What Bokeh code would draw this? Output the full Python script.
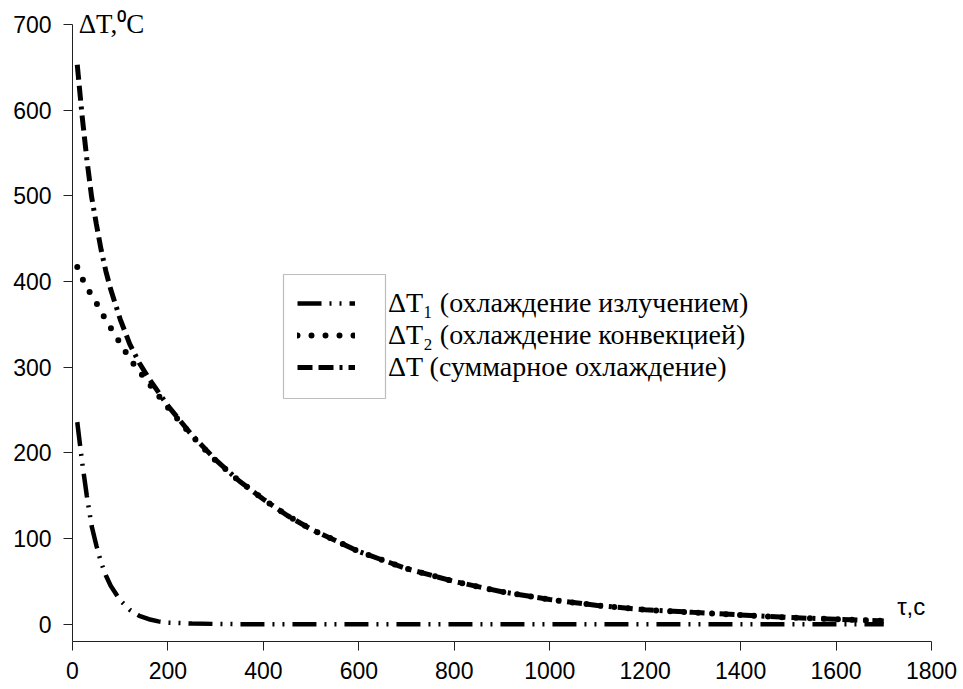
from bokeh.plotting import figure
from bokeh.models import Legend, LegendItem, Label, BoxAnnotation, FixedTicker
from bokeh.embed import file_html
from bokeh.resources import INLINE

# time, s
t = [10, 20, 30, 40, 50, 60, 70, 80, 100, 120, 140, 160, 180, 200, 250, 300, 350,
     400, 450, 500, 600, 700, 800, 900, 1000, 1100, 1200, 1300, 1400, 1500, 1600, 1700]
# ΔT1 — radiation cooling
dT1 = [236, 190, 150, 115, 92, 72, 57, 45, 28, 17, 10, 6, 3.5, 2, 1, 0.5, 0.2,
       0.1, 0, 0, 0, 0, 0, 0, 0, 0, 0, 0, 0, 0, 0, 0]
# ΔT2 — convection cooling
dT2 = [417, 404, 393, 384, 375, 365, 355, 346, 328, 310, 295, 281, 267, 253, 220, 191, 167,
       146, 127, 111, 85, 65, 50, 38, 29, 22, 17, 14, 11, 8, 6, 4]
# ΔT — total cooling
dT = [653, 594, 543, 499, 467, 437, 412, 391, 356, 327, 305, 287, 271, 255, 221, 192, 167,
      146, 127, 111, 85, 65, 50, 38, 29, 22, 17, 14, 11, 8, 6, 4]

labels = ["ΔT\u2081 (охлаждение излучением)",
          "ΔT\u2082 (охлаждение конвекцией)",
          "ΔT (суммарное охлаждение)"]
x_ticks = [0, 200, 400, 600, 800, 1000, 1200, 1400, 1600, 1800]
y_ticks = [0, 100, 200, 300, 400, 500, 600, 700]

p = figure(width=963, height=689, x_range=(0, 1800), y_range=(-20, 728),
           output_backend="svg", toolbar_location=None,
           min_border_left=72, min_border_right=32, min_border_top=0, min_border_bottom=48)
p.outline_line_color = None
p.xgrid.visible = False
p.ygrid.visible = False

for ax, ticks in ((p.xaxis, x_ticks), (p.yaxis, y_ticks)):
    ax.ticker = FixedTicker(ticks=ticks)
    ax.minor_tick_line_color = None
    ax.major_tick_out = 9
    ax.major_tick_in = 0
    ax.axis_line_color = "#222222"
    ax.major_tick_line_color = "#222222"
    ax.major_label_text_font = "Liberation Sans"
    ax.major_label_text_font_size = "23px"
    ax.major_label_text_color = "black"
p.yaxis.bounds = (-20, 700)
p.xaxis.major_label_standoff = 11
p.yaxis.major_label_standoff = 12

r1 = p.line(t, dT1, line_color="black", line_width=4.5, line_dash="24 8 2 8 2 8")
r2 = p.line(t, dT2, line_color="black", line_width=6, line_dash="0 14", line_cap="round")
r3 = p.line(t, dT, line_color="black", line_width=5, line_dash="15 6 15 6 3 6")

legend = Legend(items=[LegendItem(label=labels[0], renderers=[r1]),
                       LegendItem(label=labels[1], renderers=[r2]),
                       LegendItem(label=labels[2], renderers=[r3])],
                location=(225, 258), border_line_color=None, background_fill_alpha=0,
                glyph_width=58, glyph_height=20, label_height=20, label_standoff=33,
                spacing=-3, padding=0, margin=0,
                label_text_font="Liberation Serif", label_text_font_size="28px",
                label_text_color="black")
p.add_layout(legend)

box = BoxAnnotation(left=283 - 72, right=385 - 72, bottom=641 - 398, top=641 - 274,
                    left_units="screen", right_units="screen",
                    bottom_units="screen", top_units="screen",
                    fill_alpha=0, line_color="#222222", line_width=1.2)
p.add_layout(box)

p.add_layout(Label(x=13, y=683, text="ΔT,\u2070C", text_font="Liberation Serif",
                   text_font_size="27px", text_color="black"))
p.add_layout(Label(x=1728, y=5, text="τ,c", text_font="Liberation Sans",
                   text_font_size="24px", text_color="black"))

open("out.html", "w").write(file_html(p, INLINE))
